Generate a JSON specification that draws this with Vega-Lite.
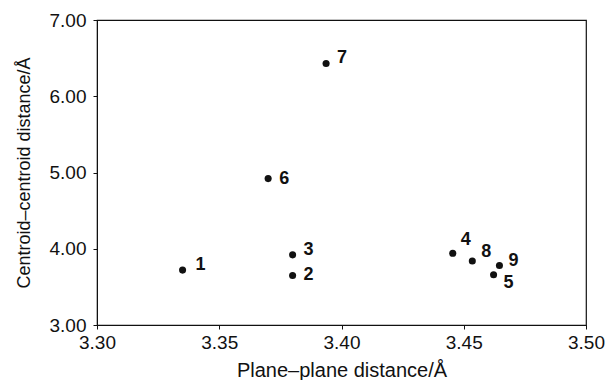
{
  "$schema": "https://vega.github.io/schema/vega-lite/v6.json",
  "width": 489,
  "height": 305,
  "autosize": {"type": "none"},
  "padding": {"left": 97, "top": 20, "right": 21, "bottom": 55},
  "background": "white",
  "config": {
    "view": {"stroke": "#111", "strokeWidth": 1.2},
    "font": "Liberation Sans",
    "axis": {
      "domainColor": "#111", "tickColor": "#111", "labelColor": "#111", "titleColor": "#111",
      "labelFont": "Liberation Sans", "titleFont": "Liberation Sans",
      "labelFontSize": 19, "titleFontSize": 18, "titleFontWeight": "normal",
      "grid": false, "tickSize": 4
    }
  },
  "data": {
    "values": [
      {"plane": 3.335, "centroid": 3.72, "label": "1", "pos": "a"},
      {"plane": 3.380, "centroid": 3.65, "label": "2", "pos": "b"},
      {"plane": 3.380, "centroid": 3.92, "label": "3", "pos": "c"},
      {"plane": 3.4455, "centroid": 3.94, "label": "4", "pos": "d"},
      {"plane": 3.4622, "centroid": 3.66, "label": "5", "pos": "e"},
      {"plane": 3.370, "centroid": 4.92, "label": "6", "pos": "b"},
      {"plane": 3.3937, "centroid": 6.43, "label": "7", "pos": "c"},
      {"plane": 3.4535, "centroid": 3.84, "label": "8", "pos": "f"},
      {"plane": 3.4646, "centroid": 3.78, "label": "9", "pos": "g"}
    ]
  },
  "encoding": {
    "x": {
      "field": "plane", "type": "quantitative",
      "scale": {"domain": [3.3, 3.5], "nice": false, "zero": false},
      "axis": {"title": "Plane\u2013plane distance/\u00c5", "titleFontSize": 20, "values": [3.3, 3.35, 3.4, 3.45, 3.5], "format": ".2f", "labelPadding": 4, "titlePadding": 8, "labelFlush": false}
    },
    "y": {
      "field": "centroid", "type": "quantitative",
      "scale": {"domain": [3, 7], "nice": false, "zero": false},
      "axis": {"title": "Centroid\u2013centroid distance/\u00c5", "values": [3, 4, 5, 6, 7], "format": ".2f", "labelPadding": 7, "titlePadding": 16}
    }
  },
  "layer": [
    {"mark": {"type": "point", "filled": true, "color": "#111", "size": 50, "opacity": 1}},
    {"transform": [{"filter": "datum.pos == 'a'"}], "mark": {"type": "text", "align": "left", "baseline": "middle", "dx": 13, "dy": -5, "fontSize": 18, "fontWeight": "bold", "color": "#111"}, "encoding": {"text": {"field": "label"}}},
    {"transform": [{"filter": "datum.pos == 'b'"}], "mark": {"type": "text", "align": "left", "baseline": "middle", "dx": 11, "dy": 0, "fontSize": 18, "fontWeight": "bold", "color": "#111"}, "encoding": {"text": {"field": "label"}}},
    {"transform": [{"filter": "datum.pos == 'c'"}], "mark": {"type": "text", "align": "left", "baseline": "middle", "dx": 11, "dy": -5, "fontSize": 18, "fontWeight": "bold", "color": "#111"}, "encoding": {"text": {"field": "label"}}},
    {"transform": [{"filter": "datum.pos == 'd'"}], "mark": {"type": "text", "align": "left", "baseline": "middle", "dx": 8, "dy": -13, "fontSize": 18, "fontWeight": "bold", "color": "#111"}, "encoding": {"text": {"field": "label"}}},
    {"transform": [{"filter": "datum.pos == 'e'"}], "mark": {"type": "text", "align": "left", "baseline": "middle", "dx": 10, "dy": 8, "fontSize": 18, "fontWeight": "bold", "color": "#111"}, "encoding": {"text": {"field": "label"}}},
    {"transform": [{"filter": "datum.pos == 'f'"}], "mark": {"type": "text", "align": "left", "baseline": "middle", "dx": 9, "dy": -9, "fontSize": 18, "fontWeight": "bold", "color": "#111"}, "encoding": {"text": {"field": "label"}}},
    {"transform": [{"filter": "datum.pos == 'g'"}], "mark": {"type": "text", "align": "left", "baseline": "middle", "dx": 9, "dy": -5, "fontSize": 18, "fontWeight": "bold", "color": "#111"}, "encoding": {"text": {"field": "label"}}}
  ]
}
